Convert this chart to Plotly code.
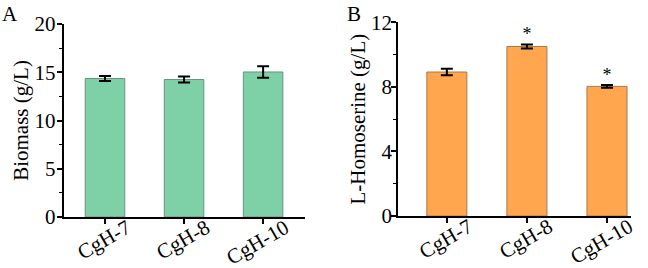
import plotly.graph_objects as go

strains = ["CgH-7", "CgH-8", "CgH-10"]
biomass = [14.35, 14.25, 15.03]
biomass_err = [0.25, 0.3, 0.6]
homoserine = [8.92, 10.5, 8.03]
homoserine_err = [0.2, 0.13, 0.08]
signif = ["", "*", "*"]

FONT = "Liberation Serif, Times New Roman, serif"
GREEN = "#7ED1A6"
ORANGE = "#FFA64F"

fig = go.Figure()
fig.add_trace(go.Bar(
    x=strains, y=biomass, width=0.5,
    marker=dict(color=GREEN, line=dict(color="#6f8f7e", width=1)),
    error_y=dict(type="data", array=biomass_err, color="black", thickness=2, width=6),
    xaxis="x", yaxis="y", showlegend=False,
))
fig.add_trace(go.Bar(
    x=strains, y=homoserine, width=0.5,
    marker=dict(color=ORANGE, line=dict(color="#a8794f", width=1)),
    error_y=dict(type="data", array=homoserine_err, color="black", thickness=2, width=6),
    xaxis="x2", yaxis="y2", showlegend=False,
))
fig.add_trace(go.Scatter(
    x=strains, y=[v + e for v, e in zip(homoserine, homoserine_err)],
    mode="text", text=signif, textposition="top center",
    textfont=dict(family=FONT, size=18, color="black"),
    xaxis="x2", yaxis="y2", showlegend=False, cliponaxis=False,
))

axis_common = dict(
    showline=True, linecolor="black", linewidth=1.5,
    ticks="outside", ticklen=5, tickwidth=1.5, tickcolor="black",
    showgrid=False, zeroline=False, automargin=False,
    tickfont=dict(family=FONT, size=21, color="black"),
)
xtick_extra = dict(tickangle=-30, ticklabelshift=22, ticklabelstandoff=-16)

fig.update_layout(
    width=648, height=268,
    margin=dict(l=0, r=0, t=0, b=0),
    paper_bgcolor="white", plot_bgcolor="white",
    xaxis=dict(domain=[0.098, 0.4707], range=[-0.525, 2.53],
               anchor="y", **xtick_extra, **axis_common),
    yaxis=dict(domain=[0.1903, 0.9104], range=[0, 20], dtick=5, anchor="x",
               ticklabelstandoff=-3,
               minor=dict(ticks="outside", ticklen=3, tickwidth=1, tickcolor="black", dtick=2.5),
               title=dict(text="Biomass (g/L)", font=dict(family=FONT, size=21, color="black"), standoff=0),
               **axis_common),
    xaxis2=dict(domain=[0.6142, 0.9738], range=[-0.61, 2.3],
                anchor="y2", **xtick_extra, **axis_common),
    yaxis2=dict(domain=[0.1940, 0.9168], range=[0, 12], dtick=4, anchor="x2",
                ticklabelstandoff=-5,
                minor=dict(ticks="outside", ticklen=3, tickwidth=1, tickcolor="black", dtick=2),
                title=dict(text="L-Homoserine (g/L)", font=dict(family=FONT, size=21, color="black"), standoff=0),
                **axis_common),
    annotations=[
        dict(text="A", x=0.0, y=1.0, xref="paper", yref="paper", xanchor="left", yanchor="top",
             showarrow=False, font=dict(family=FONT, size=21, color="black")),
        dict(text="B", x=0.532, y=1.0, xref="paper", yref="paper", xanchor="left", yanchor="top",
             showarrow=False, font=dict(family=FONT, size=21, color="black")),
    ],
)

fig.write_html("out.html")
